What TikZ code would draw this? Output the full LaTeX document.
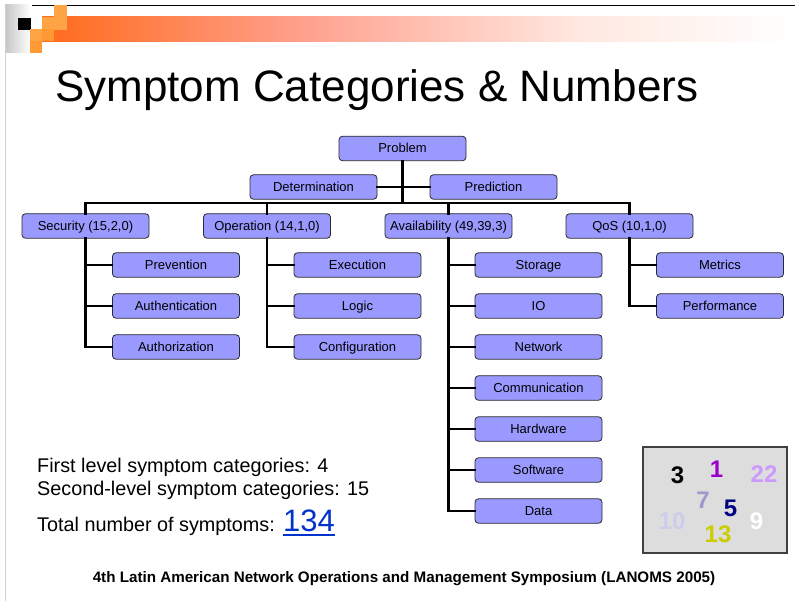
\documentclass[tikz,border=0pt]{standalone}
\usepackage{fontspec}
\setmainfont{Liberation Sans}
\definecolor{boxblue}{HTML}{9999FF}
\definecolor{boxline}{HTML}{2B2B2B}
\definecolor{hdrorange}{HTML}{FF6A1A}
\definecolor{hdrsalmon}{HTML}{FFA08C}
\definecolor{hdrpale}{HTML}{FFE8E0}
\definecolor{sqsolid}{HTML}{FF9933}
\definecolor{sqdot}{HTML}{FFA445}
\definecolor{linkblue}{HTML}{0033CC}
\definecolor{numbox}{HTML}{DDDDDD}
\definecolor{cpurple}{HTML}{9900CC}
\definecolor{clilac}{HTML}{CC99FF}
\definecolor{cslate}{HTML}{9999CC}
\definecolor{cnavy}{HTML}{000080}
\definecolor{cpale}{HTML}{CCCCEE}
\definecolor{colive}{HTML}{CCCC00}
\tikzset{
  cat/.style={draw=boxline, fill=boxblue, rounded corners=3.5pt, line width=0.8pt,
    minimum width=127pt, minimum height=24.5pt, inner sep=0pt,
    text height=11.6pt, text depth=2.6pt,
    font=\fontsize{13}{15}\selectfont},
  link/.style={line width=2.4pt, line cap=rect},
  bignum/.style={font=\fontsize{24}{26}\selectfont\bfseries, inner sep=0pt},
  bodytext/.style={font=\fontsize{19.8}{23}\selectfont, inner sep=0pt, anchor=base west}
}
\begin{document}
\begin{tikzpicture}[x=1pt,y=-1pt]
\useasboundingbox (0,0) rectangle (795,601);
\fill[white] (0,0) rectangle (795,601);

% header band
\shade[left color=gray!45, right color=white] (5,5) rectangle (31,53);
\draw[gray!35, line width=1pt] (5.5,5) -- (5.5,601);
\draw[black, line width=1.2pt] (32,5.5) -- (795,5.5);
\shade[left color=hdrorange, right color=hdrsalmon] (42,17) rectangle (300,42);
\shade[left color=hdrsalmon, right color=hdrpale] (299.5,17) rectangle (580,42);
\shade[left color=hdrpale, right color=white] (579.5,17) rectangle (795,42);
\fill[black] (18,18) rectangle (31,30);
\fill[sqdot] (54,5) rectangle (67,17);
\fill[sqdot] (42,17) rectangle (54,29);
\fill[sqsolid!90!white] (54,17) rectangle (67,30);
\fill[sqdot] (30,29) rectangle (42,41);
\fill[sqsolid] (42,29) rectangle (54,41);
\fill[sqsolid] (30,41) rectangle (42,53);

% title
\node[font=\fontsize{44}{48}\selectfont, inner sep=0pt, anchor=base west] (title) at (55,102) {Symptom Categories \& Numbers};

% tree
\node[cat] (prob) at (402.5,148.5) {Problem};
\node[cat] (det)  at (313.5,187) {Determination};
\node[cat] (pred) at (493.5,187) {Prediction};

\node[cat] (sec)  at (85.5,226)  {Security (15,2,0)};
\node[cat] (oper) at (267,226)   {Operation (14,1,0)};
\node[cat] (avail) at (448.5,226) {Availability (49,39,3)};
\node[cat] (qos)  at (629.5,226) {QoS (10,1,0)};

\node[cat] (sec1) at (176,265) {Prevention};
\node[cat] (sec2) at (176,306) {Authentication};
\node[cat] (sec3) at (176,347) {Authorization};

\node[cat] (op1) at (357.5,265) {Execution};
\node[cat] (op2) at (357.5,306) {Logic};
\node[cat] (op3) at (357.5,347) {Configuration};

\node[cat] (av1) at (538.5,265) {Storage};
\node[cat] (av2) at (538.5,306) {IO};
\node[cat] (av3) at (538.5,347) {Network};
\node[cat] (av4) at (538.5,388) {Communication};
\node[cat] (av5) at (538.5,429) {Hardware};
\node[cat] (av6) at (538.5,470) {Software};
\node[cat] (av7) at (538.5,511) {Data};

\node[cat] (qs1) at (720,265) {Metrics};
\node[cat] (qs2) at (720,306) {Performance};

\coordinate (bus) at (0,203);

% connectors
\draw[link] (prob.south) -- (prob.south |- bus);
\draw[link] (det.east) -- (prob.south |- det.east);
\draw[link] (pred.west) -- (prob.south |- pred.west);
\draw[link] (sec.north |- bus) -- (qos.north |- bus);
\foreach \n in {sec,oper,avail,qos}
  \draw[link] (\n.north |- bus) -- (\n.north);

\draw[link] (sec.south) |- (sec3.west);
\foreach \c in {sec1,sec2}
  \draw[link] (sec.south |- \c.west) -- (\c.west);

\draw[link] (oper.south) |- (op3.west);
\foreach \c in {op1,op2}
  \draw[link] (oper.south |- \c.west) -- (\c.west);

\draw[link] (avail.south) |- (av7.west);
\foreach \c in {av1,av2,av3,av4,av5,av6}
  \draw[link] (avail.south |- \c.west) -- (\c.west);

\draw[link] (qos.south) |- (qs2.west);
\draw[link] (qos.south |- qs1.west) -- (qs1.west);

% summary text
\node[bodytext] (l1) at (37,472) {First level symptom categories: 4};
\node[bodytext] (l2) at (37,495) {Second-level symptom categories: 15};
\node[bodytext] (l3) at (37,531) {Total number of symptoms:};
\node[font=\fontsize{31}{34}\selectfont, text=linkblue, inner sep=0pt, anchor=base west] (total) at (283,531) {134};
\draw[linkblue, line width=1.8pt] (total.base west) ++(0,4) -- ([yshift=-4pt]total.base east);

% number box
\node[draw=black!75, fill=numbox, line width=1.2pt, minimum width=144pt, minimum height=106pt, inner sep=0pt] (nbox) at (715,500) {};
\node[bignum, text=black]   (n3)  at (677.5,475) {3};
\node[bignum, text=cpurple] (n1)  at (716.5,469) {1};
\node[bignum, text=clilac]  (n22) at (764,474) {22};
\node[bignum, text=cslate]  (n7)  at (703,500) {7};
\node[bignum, text=cnavy]   (n5)  at (730.5,508) {5};
\node[bignum, text=cpale]   (n10) at (672,521.5) {10};
\node[bignum, text=white]   (n9)  at (756.5,521.5) {9};
\node[bignum, text=colive]  (n13) at (718,534.5) {13};

% footer
\node[font=\fontsize{15.2}{17}\selectfont\bfseries, inner sep=0pt, anchor=base] (foot) at (404,582) {4th Latin American Network Operations and Management Symposium (LANOMS 2005)};
\end{tikzpicture}
\end{document}
